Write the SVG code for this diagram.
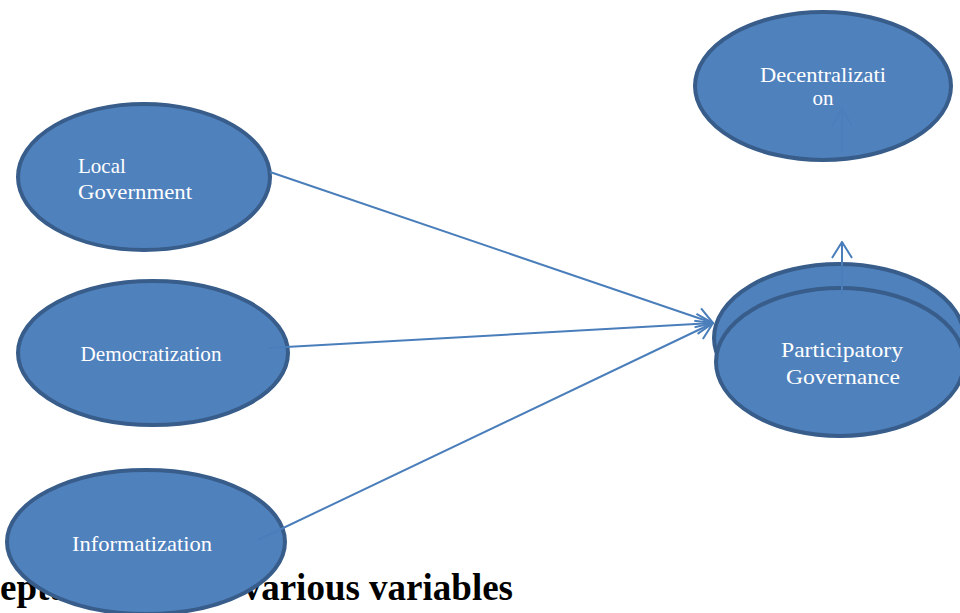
<svg xmlns="http://www.w3.org/2000/svg" width="960" height="613" viewBox="0 0 960 613">
<style>
.node{fill:#4f81bd;stroke:#385d8a;stroke-width:4}
.lbl{font-family:"Liberation Serif","Times New Roman",serif;font-size:21px;fill:#ffffff}
.conn{stroke:#4a7ebb;stroke-width:2;fill:none}
.title{font-family:"Liberation Serif","Times New Roman",serif;font-size:37px;font-weight:bold;fill:#000000}
</style>
<defs>
<marker id="arr" markerUnits="userSpaceOnUse" viewBox="0 0 18 22" markerWidth="18" markerHeight="22" refX="17" refY="11" orient="auto">
<path d="M1,1 L17,11 L1,21" fill="none" stroke="#4a7ebb" stroke-width="2"/>
</marker>
</defs>
<rect width="960" height="613" fill="#ffffff"/>
<text class="title" x="0" y="600">eptual</text>
<text class="title" x="513" y="600" text-anchor="end">various variables</text>
<g id="decentralization">
<ellipse class="node" cx="823" cy="86" rx="128" ry="74"/>
<text class="lbl" x="823" y="82" text-anchor="middle" textLength="126" lengthAdjust="spacingAndGlyphs">Decentralizati</text>
<text class="lbl" x="823" y="105" text-anchor="middle">on</text>
<path d="M842,152 L842,109 M832,126 L842,109 L852,126" fill="none" stroke="#4a7ebb" stroke-width="2" opacity="0.8"/>
</g>
<g id="participatory-governance">
<ellipse class="node" cx="839" cy="338" rx="125" ry="74"/>
<ellipse class="node" cx="840" cy="362" rx="124" ry="74"/>
<text class="lbl" x="842" y="357" text-anchor="middle" textLength="122" lengthAdjust="spacingAndGlyphs">Participatory</text>
<text class="lbl" x="843" y="384" text-anchor="middle" textLength="114" lengthAdjust="spacingAndGlyphs">Governance</text>
</g>
<g id="local-government">
<ellipse class="node" cx="144" cy="177" rx="126" ry="73"/>
<text class="lbl" x="78" y="173">Local</text>
<text class="lbl" x="78" y="199" textLength="114" lengthAdjust="spacingAndGlyphs">Government</text>
</g>
<g id="democratization">
<ellipse class="node" cx="153" cy="353" rx="135" ry="72"/>
<text class="lbl" x="151" y="361" text-anchor="middle" textLength="141" lengthAdjust="spacingAndGlyphs">Democratization</text>
</g>
<g id="informatization">
<ellipse class="node" cx="146" cy="542" rx="139" ry="72"/>
<text class="lbl" x="142" y="551" text-anchor="middle" textLength="140" lengthAdjust="spacingAndGlyphs">Informatization</text>
</g>
<g id="connectors">
<line class="conn" x1="270" y1="172" x2="713" y2="323" marker-end="url(#arr)"/>
<line class="conn" x1="268" y1="348" x2="713" y2="323" marker-end="url(#arr)"/>
<line class="conn" x1="258" y1="540" x2="713" y2="323" marker-end="url(#arr)"/>
<line class="conn" x1="842" y1="294" x2="842" y2="242" marker-end="url(#arr)"/>
</g>
</svg>
